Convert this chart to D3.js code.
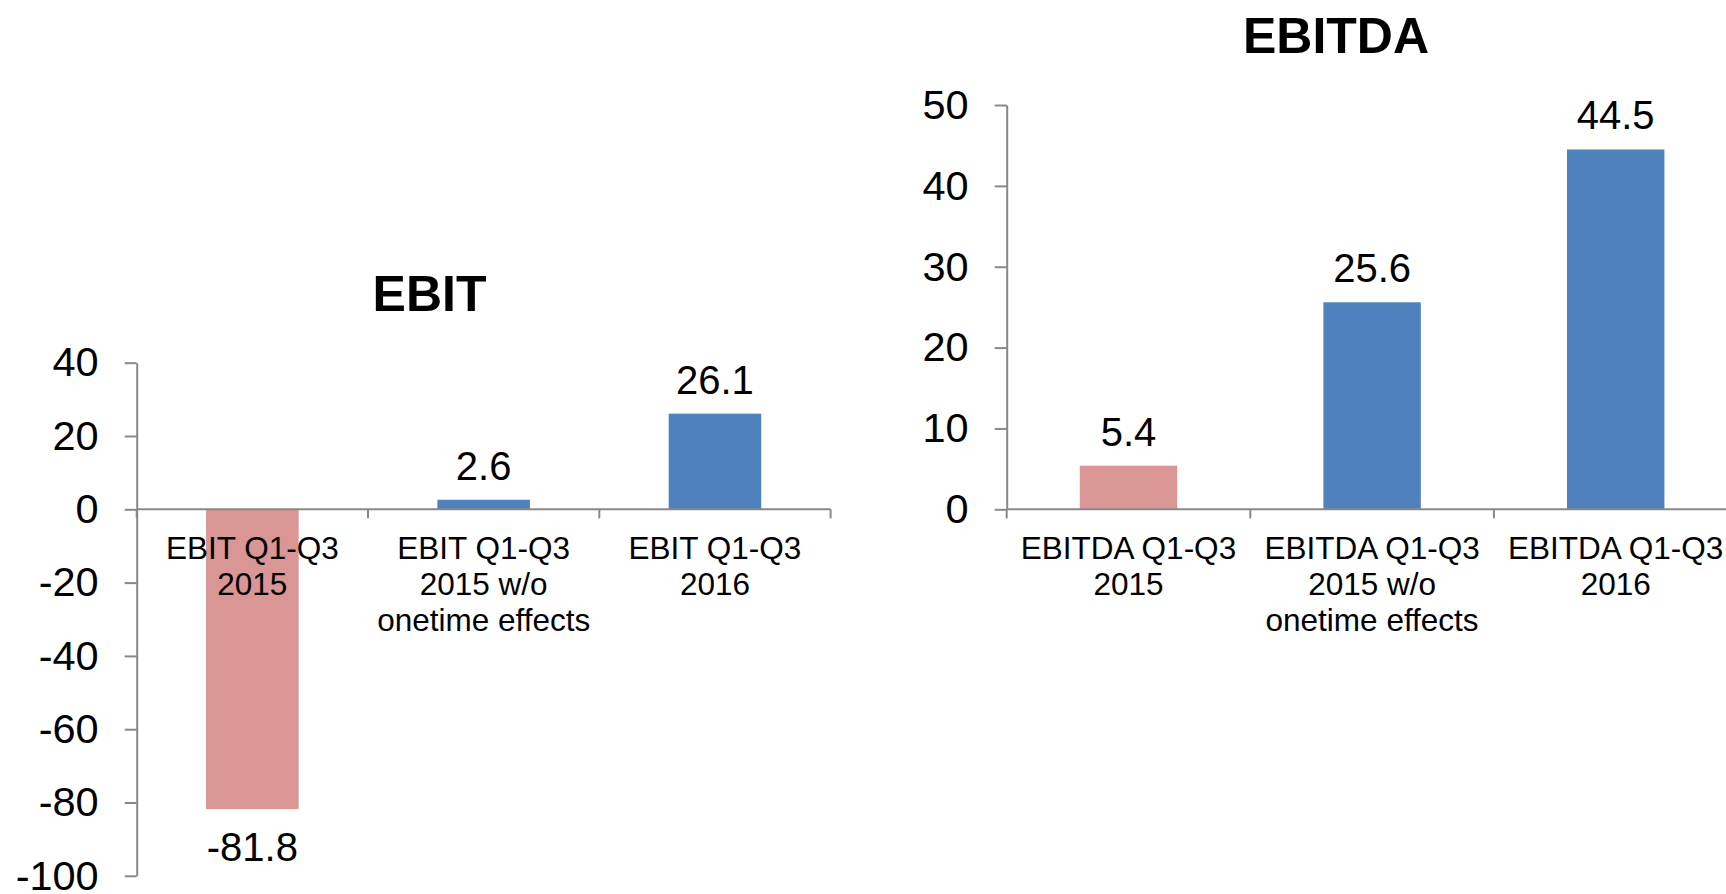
<!DOCTYPE html>
<html lang="en">
<head>
<meta charset="utf-8">
<title>EBIT / EBITDA</title>
<script src="https://d3js.org/d3.v7.min.js"></script>
<style>
  body { margin: 0; background: #fff; }
  svg { display: block; font-family: "Liberation Sans", Arial, sans-serif; }
  .axis path, .axis line { stroke: #888; stroke-width: 2px; }
  .axis text { fill: #000; }
</style>
</head>
<body>
<script>
// data
var ebitCategories = [["EBIT Q1-Q3", "2015"], ["EBIT Q1-Q3", "2015 w/o", "onetime effects"], ["EBIT Q1-Q3", "2016"]];
var ebitValues = [-81.8, 2.6, 26.1];
var ebitTicks = [40, 20, 0, -20, -40, -60, -80, -100];

var ebitdaCategories = [["EBITDA Q1-Q3", "2015"], ["EBITDA Q1-Q3", "2015 w/o", "onetime effects"], ["EBITDA Q1-Q3", "2016"]];
var ebitdaValues = [5.4, 25.6, 44.5];
var ebitdaTicks = [0, 10, 20, 30, 40, 50];

var W = 1726, H = 894;
var barColors = ["#D99694", "#4F81BD", "#4F81BD"];

var svg = d3.select("body").append("svg")
    .attr("width", W)
    .attr("height", H);

function drawChart(opt) {
    var cats = opt.categories.map(function(c) { return c.join(" "); });
    var x = d3.scaleBand().domain(cats).range([opt.x0, opt.x1]).padding(0);
    var y = d3.scaleLinear().domain(opt.domain).range([opt.yBottom, opt.yTop]);
    var g = svg.append("g");
    var barW = x.bandwidth() * 0.4;

    // bars
    g.selectAll("rect.bar").data(opt.values).enter().append("rect")
        .attr("class", "bar")
        .attr("x", function(d, i) { return x(cats[i]) + (x.bandwidth() - barW) / 2; })
        .attr("y", function(d) { return y(Math.max(0, d)); })
        .attr("width", barW)
        .attr("height", function(d) { return Math.abs(y(d) - y(0)); })
        .attr("fill", function(d, i) { return barColors[i]; });

    // y axis
    g.append("g")
        .attr("class", "axis")
        .attr("transform", "translate(" + opt.x0 + ",0)")
        .call(d3.axisLeft(y).tickValues(opt.ticks).tickSize(12).tickSizeOuter(0)
            .tickPadding(26).tickFormat(function(d) { return String(d); }))
        .selectAll("text")
        .attr("font-size", 41.5);

    // x axis on the zero line, with ticks between categories
    var xa = g.append("g").attr("class", "axis");
    xa.append("line")
        .attr("x1", opt.x0).attr("x2", opt.x1)
        .attr("y1", y(0)).attr("y2", y(0));
    var edges = cats.map(function(c) { return x(c); }).concat([opt.x1]);
    xa.selectAll("line.tk").data(edges).enter().append("line")
        .attr("class", "tk")
        .attr("x1", function(d) { return d; }).attr("x2", function(d) { return d; })
        .attr("y1", y(0)).attr("y2", y(0) + 9);

    // category labels
    var lab = g.selectAll("text.cat").data(opt.categories).enter().append("text")
        .attr("class", "cat")
        .attr("text-anchor", "middle")
        .attr("font-size", 31.5)
        .attr("x", function(d, i) { return x(cats[i]) + x.bandwidth() / 2; })
        .attr("y", y(0) + 49.5);
    lab.selectAll("tspan").data(function(d) { return d; }).enter().append("tspan")
        .attr("x", function() { return d3.select(this.parentNode).attr("x"); })
        .attr("dy", function(d, i) { return i === 0 ? 0 : 36; })
        .text(function(d) { return d; });

    // value labels
    g.selectAll("text.val").data(opt.values).enter().append("text")
        .attr("class", "val")
        .attr("text-anchor", "middle")
        .attr("font-size", 40)
        .attr("x", function(d, i) { return x(cats[i]) + x.bandwidth() / 2; })
        .attr("y", function(d) { return d >= 0 ? y(d) - 20 : y(d) + 52; })
        .text(function(d) { return d.toFixed(1); });

    // title
    svg.append("text")
        .attr("text-anchor", "middle")
        .attr("font-size", 50)
        .attr("font-weight", "bold")
        .attr("x", opt.titleX)
        .attr("y", opt.titleY)
        .text(opt.title);
}

drawChart({
    title: "EBIT", titleX: 429.5, titleY: 310.7,
    categories: ebitCategories, values: ebitValues, ticks: ebitTicks,
    domain: [-100, 40], yBottom: 875.8, yTop: 362.7,
    x0: 136.7, x1: 830.6
});

drawChart({
    title: "EBITDA", titleX: 1336, titleY: 52.7,
    categories: ebitdaCategories, values: ebitdaValues, ticks: ebitdaTicks,
    domain: [0, 50], yBottom: 509.3, yTop: 105,
    x0: 1006.7, x1: 1737.5
});
</script>
</body>
</html>
